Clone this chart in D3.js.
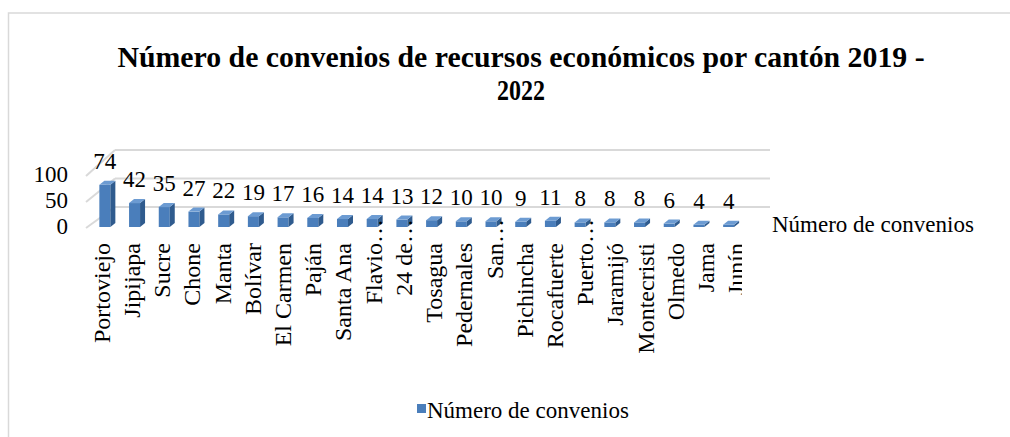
<!DOCTYPE html>
<html>
  <head>
    <title>Convenios por cantón</title>
    <script src="https://cdn.jsdelivr.net/npm/d3@7"></script>
    <style>
      body { margin: 0; background: #fff; }
      text { font-family: "Liberation Serif", "Times New Roman", serif; fill: #000; }
    </style>
  </head>
  <body>
    <svg width="1010" height="437" id="mainsvg"></svg>
    <script>
      // data
      const cantones = ['Portoviejo', 'Jipijapa', 'Sucre', 'Chone', 'Manta', 'Bolívar', 'El Carmen', 'Paján',
        'Santa Ana', 'Flavio…', '24 de…', 'Tosagua', 'Pedernales', 'San…', 'Pichincha', 'Rocafuerte',
        'Puerto…', 'Jaramijó', 'Montecristi', 'Olmedo', 'Jama', 'Junín'];
      const convenios = [74, 42, 35, 27, 22, 19, 17, 16, 14, 14, 13, 12, 10, 10, 9, 11, 8, 8, 8, 6, 4, 4];
      const yTicks = [0, 50, 100];
      const serieName = 'Número de convenios';
      const titleLines = ['Número de convenios de recursos económicos por cantón 2019 -', '2022'];

      const svg = d3.select('#mainsvg');
      const data = cantones.map((c, i) => ({name: c, value: convenios[i], i: i}));

      // chart frame
      svg.append('rect')
        .attr('x', 8.5).attr('y', 13)
        .attr('width', 1020).attr('height', 440)
        .attr('fill', 'none').attr('stroke', '#d9d9d9').attr('stroke-width', 1.5);

      // scales: front plane (bars) and back wall (gridlines)
      const xScale = d3.scaleBand().domain(cantones).range([90, 743.5]);
      const yFront = d3.scaleLinear().domain([0, 100]).range([227, 170]);
      const yBack = d3.scaleLinear().domain([0, 100]).range([207, 150]);
      const yLabel = d3.scaleLinear().domain([0, 100]).range([234, 182]);
      const wallLeft = 115, wallRight = 770, frontLeft = 86;

      // back wall gridlines + left wall diagonals
      const grid = svg.append('g');
      grid.selectAll('line.back').data(yTicks).enter().append('line')
        .attr('x1', wallLeft).attr('x2', wallRight)
        .attr('y1', d => yBack(d)).attr('y2', d => yBack(d))
        .attr('stroke', '#d9d9d9').attr('stroke-width', 2);
      grid.selectAll('line.side').data(yTicks).enter().append('line')
        .attr('x1', frontLeft).attr('x2', wallLeft)
        .attr('y1', d => yLabel(d) - 6).attr('y2', d => yBack(d))
        .attr('stroke', '#d9d9d9').attr('stroke-width', 2);

      // y tick labels
      svg.append('g').selectAll('text').data(yTicks).enter().append('text')
        .attr('x', 68).attr('y', d => yLabel(d))
        .attr('text-anchor', 'end').attr('font-size', 23)
        .text(d => d);

      // 3D bars
      const faceW = 11, dx = 5, dy = -4;
      const cx = d => xScale(d.name) + xScale.bandwidth() / 2;
      const bars = svg.append('g').selectAll('g').data(data).enter().append('g');
      bars.append('rect')
        .attr('x', d => cx(d) - faceW / 2)
        .attr('y', d => yFront(d.value))
        .attr('width', faceW)
        .attr('height', d => yFront(0) - yFront(d.value))
        .attr('fill', '#4a7ebb');
      bars.append('path')
        .attr('d', d => {
          const x = cx(d) + faceW / 2, t = yFront(d.value), b = yFront(0);
          return `M${x},${t}L${x + dx},${t + dy}L${x + dx},${b + dy}L${x},${b}Z`;
        })
        .attr('fill', '#2f5b8e');
      bars.append('path')
        .attr('d', d => {
          const x = cx(d) - faceW / 2, t = yFront(d.value);
          return `M${x},${t}L${x + dx},${t + dy}L${x + faceW + dx},${t + dy}L${x + faceW},${t}Z`;
        })
        .attr('fill', '#6c9bd2');

      // data labels
      svg.append('g').selectAll('text').data(data).enter().append('text')
        .attr('x', d => cx(d))
        .attr('y', d => yFront(d.value) + dy - 12)
        .attr('text-anchor', 'middle').attr('font-size', 23)
        .text(d => d.value);

      // category labels, rotated, clipped at the right like the original;
      // truncated names let their ellipsis stick out above the label line
      svg.append('clipPath').attr('id', 'catclip')
        .append('rect').attr('x', 0).attr('y', 0).attr('width', 742).attr('height', 437);
      svg.append('g').attr('clip-path', 'url(#catclip)')
        .selectAll('text').data(data).enter().append('text')
        .attr('transform', d => `translate(${cx(d) + 5 + d.i * 0.5}, 243) rotate(-90)`)
        .attr('x', d => d.name.endsWith('…') ? '1em' : 0)
        .attr('text-anchor', 'end').attr('font-size', 24)
        .text(d => d.name);

      // depth (series) axis label
      svg.append('text')
        .attr('x', 772).attr('y', 232)
        .attr('font-size', 23)
        .text(serieName);

      // title (condensed bold)
      const title = svg.append('g');
      title.append('text')
        .attr('transform', 'translate(521, 67) scale(0.8, 1)')
        .attr('text-anchor', 'middle').attr('font-size', 30).attr('font-weight', 'bold')
        .attr('textLength', 1009).attr('lengthAdjust', 'spacingAndGlyphs')
        .text(titleLines[0]);
      title.append('text')
        .attr('transform', 'translate(521, 100) scale(0.8, 1)')
        .attr('text-anchor', 'middle').attr('font-size', 30).attr('font-weight', 'bold')
        .text(titleLines[1]);

      // legend
      const legend = svg.append('g');
      legend.append('rect')
        .attr('x', 417).attr('y', 404).attr('width', 9).attr('height', 9)
        .attr('fill', '#4a7ebb');
      legend.append('text')
        .attr('x', 427).attr('y', 418)
        .attr('font-size', 23)
        .text(serieName);
    </script>
  </body>
</html>
